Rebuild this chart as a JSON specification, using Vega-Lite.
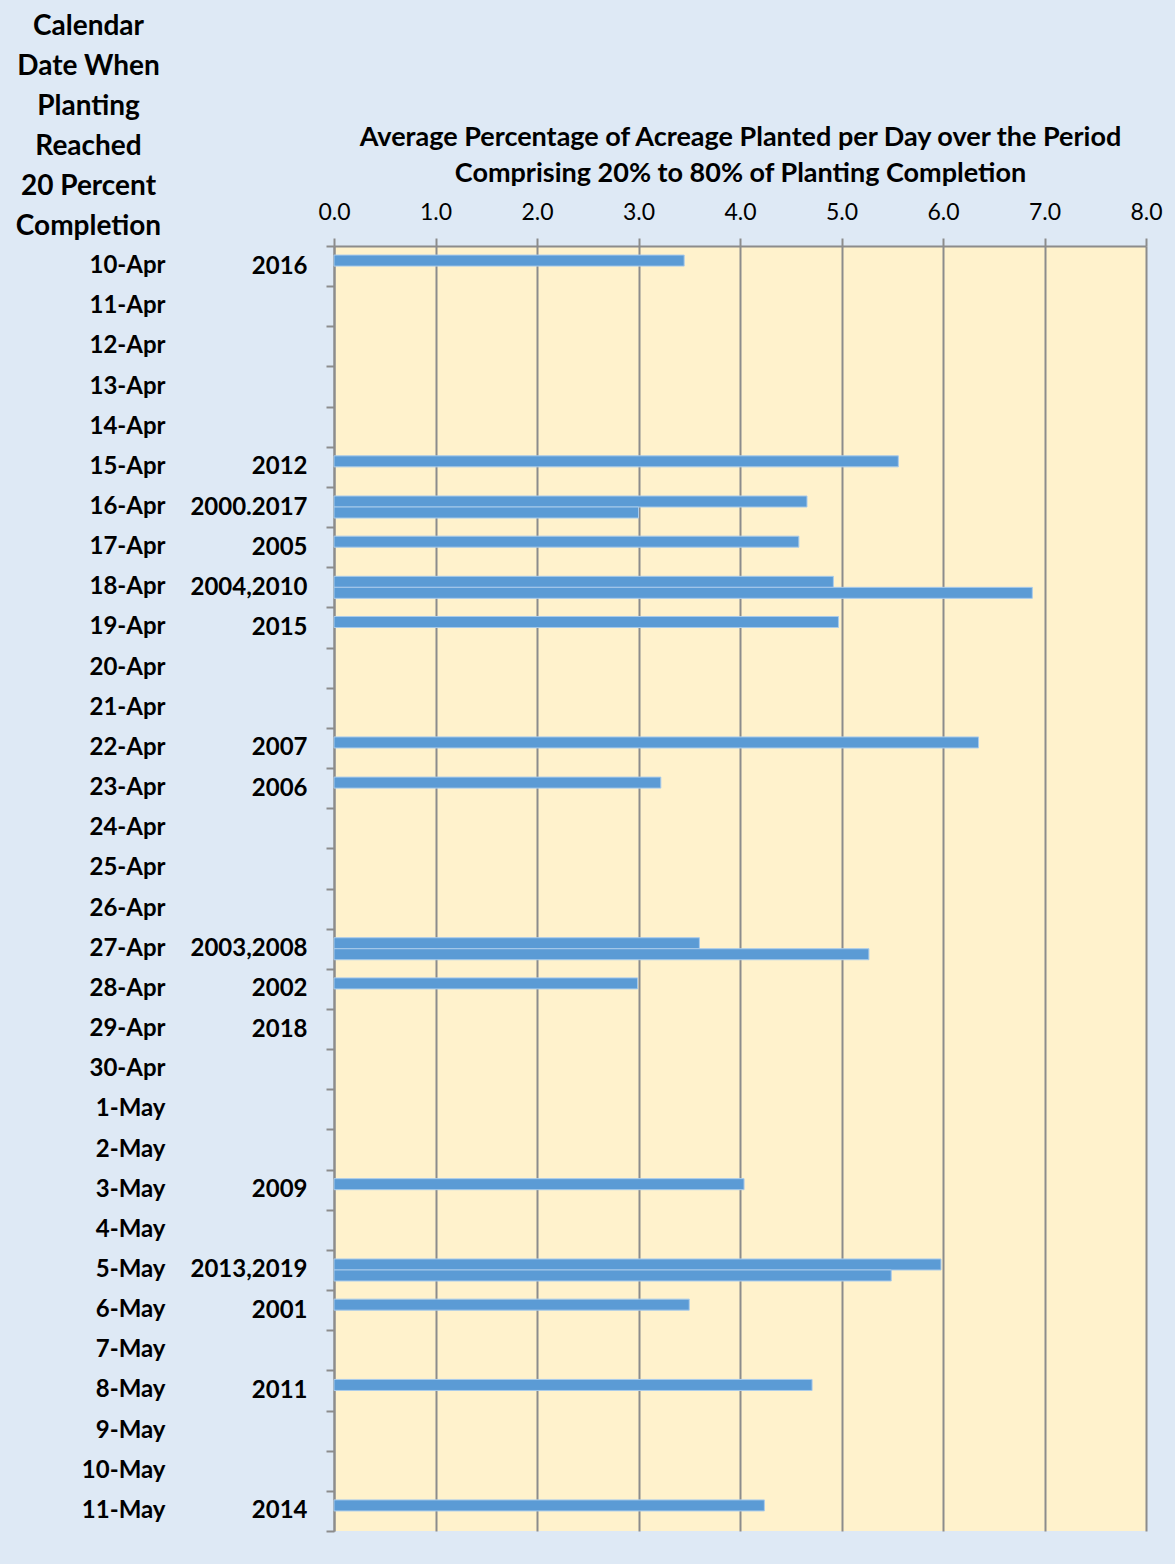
{
  "$schema": "https://vega.github.io/schema/vega-lite/v6.json",
  "width": 812,
  "height": 1285,
  "autosize": {"type": "none"},
  "padding": {"left": 334, "top": 246, "right": 29, "bottom": 33},
  "background": "#dee9f5",
  "config": {
    "view": {"fill": "#fff2cc", "stroke": null},
    "font": "Lato"
  },
  "data": {
    "values": [
      {"date": "10-Apr", "years": "2016", "series": "a", "value": 3.45},
      {"date": "11-Apr", "years": "", "series": "a", "value": null},
      {"date": "12-Apr", "years": "", "series": "a", "value": null},
      {"date": "13-Apr", "years": "", "series": "a", "value": null},
      {"date": "14-Apr", "years": "", "series": "a", "value": null},
      {"date": "15-Apr", "years": "2012", "series": "a", "value": 5.56},
      {"date": "16-Apr", "years": "2000.2017", "series": "a", "value": 4.66},
      {"date": "16-Apr", "years": "2000.2017", "series": "b", "value": 3.0},
      {"date": "17-Apr", "years": "2005", "series": "a", "value": 4.58},
      {"date": "18-Apr", "years": "2004,2010", "series": "a", "value": 4.92},
      {"date": "18-Apr", "years": "2004,2010", "series": "b", "value": 6.88},
      {"date": "19-Apr", "years": "2015", "series": "a", "value": 4.97},
      {"date": "20-Apr", "years": "", "series": "a", "value": null},
      {"date": "21-Apr", "years": "", "series": "a", "value": null},
      {"date": "22-Apr", "years": "2007", "series": "a", "value": 6.35},
      {"date": "23-Apr", "years": "2006", "series": "a", "value": 3.22},
      {"date": "24-Apr", "years": "", "series": "a", "value": null},
      {"date": "25-Apr", "years": "", "series": "a", "value": null},
      {"date": "26-Apr", "years": "", "series": "a", "value": null},
      {"date": "27-Apr", "years": "2003,2008", "series": "a", "value": 3.6},
      {"date": "27-Apr", "years": "2003,2008", "series": "b", "value": 5.27},
      {"date": "28-Apr", "years": "2002", "series": "a", "value": 2.99},
      {"date": "29-Apr", "years": "2018", "series": "a", "value": null},
      {"date": "30-Apr", "years": "", "series": "a", "value": null},
      {"date": "1-May", "years": "", "series": "a", "value": null},
      {"date": "2-May", "years": "", "series": "a", "value": null},
      {"date": "3-May", "years": "2009", "series": "a", "value": 4.04},
      {"date": "4-May", "years": "", "series": "a", "value": null},
      {"date": "5-May", "years": "2013,2019", "series": "a", "value": 5.98},
      {"date": "5-May", "years": "2013,2019", "series": "b", "value": 5.49},
      {"date": "6-May", "years": "2001", "series": "a", "value": 3.5},
      {"date": "7-May", "years": "", "series": "a", "value": null},
      {"date": "8-May", "years": "2011", "series": "a", "value": 4.71},
      {"date": "9-May", "years": "", "series": "a", "value": null},
      {"date": "10-May", "years": "", "series": "a", "value": null},
      {"date": "11-May", "years": "2014", "series": "a", "value": 4.24}
    ]
  },
  "transform": [{"calculate": "datum.date + '|' + datum.years", "as": "key"}],
  "layer": [
    {
      "mark": {"type": "tick", "opacity": 0},
      "encoding": {
        "y": {
          "field": "key",
          "type": "nominal",
          "sort": null,
          "scale": {"paddingInner": 0, "paddingOuter": 0},
          "axis": {
            "orient": "left",
            "domain": false,
            "ticks": false,
            "grid": false,
            "labelExpr": "split(datum.value, '|')[0]",
            "labelPadding": 169,
            "labelFont": "Lato",
            "labelFontSize": 24,
            "labelFontWeight": "bold",
            "labelColor": "#000000",
            "title": ["Calendar", "Date When", "Planting", "Reached", "20 Percent", "Completion"],
            "titleAngle": 0,
            "titleAlign": "center",
            "titleBaseline": "top",
            "titleX": -246,
            "titleY": -234,
            "titleFont": "Lato",
            "titleFontSize": 28,
            "titleFontWeight": "bold",
            "titleColor": "#000000",
            "titleLineHeight": 40
          }
        }
      }
    },
    {
      "mark": {"type": "bar", "color": "#5b9bd5", "stroke": "#a9cbeb", "strokeWidth": 1, "invalid": "show"},
      "encoding": {
        "y": {
          "field": "key",
          "type": "nominal",
          "sort": null,
          "scale": {"paddingInner": 0, "paddingOuter": 0},
          "axis": {
            "orient": "left",
            "domain": true,
            "domainColor": "#8c8c8c",
            "domainWidth": 2,
            "ticks": true,
            "tickBand": "extent",
            "tickSize": 8,
            "tickColor": "#8c8c8c",
            "tickWidth": 2,
            "grid": false,
            "labelExpr": "split(datum.value, '|')[1]",
            "labelPadding": 19,
            "labelFont": "Lato",
            "labelFontSize": 24,
            "labelFontWeight": "bold",
            "labelColor": "#000000",
            "title": null
          }
        },
        "yOffset": {"field": "series", "type": "nominal", "scale": {"paddingInner": 0, "paddingOuter": 0.825}},
        "x": {
          "field": "value",
          "type": "quantitative",
          "scale": {"domain": [0, 8], "nice": false},
          "axis": {
            "orient": "top",
            "values": [0, 1, 2, 3, 4, 5, 6, 7, 8],
            "format": ".1f",
            "labelFlush": false,
            "grid": true,
            "gridColor": "#8c8c8c",
            "gridWidth": 2,
            "domainColor": "#8c8c8c",
            "domainWidth": 2,
            "tickColor": "#8c8c8c",
            "tickWidth": 2,
            "tickSize": 8,
            "labelFont": "Lato",
            "labelFontSize": 23,
            "labelColor": "#000000",
            "labelPadding": 14,
            "title": ["Average Percentage of Acreage Planted per Day over the Period", "Comprising 20% to 80% of Planting Completion"],
            "titleFont": "Lato",
            "titleFontSize": 27,
            "titleFontWeight": "bold",
            "titleColor": "#000000",
            "titlePadding": 14,
            "titleLineHeight": 36
          }
        },
        "strokeOpacity": {"condition": {"test": "datum.value === null", "value": 0}, "value": 1}
      }
    }
  ],
  "resolve": {"axis": {"y": "independent"}}
}
